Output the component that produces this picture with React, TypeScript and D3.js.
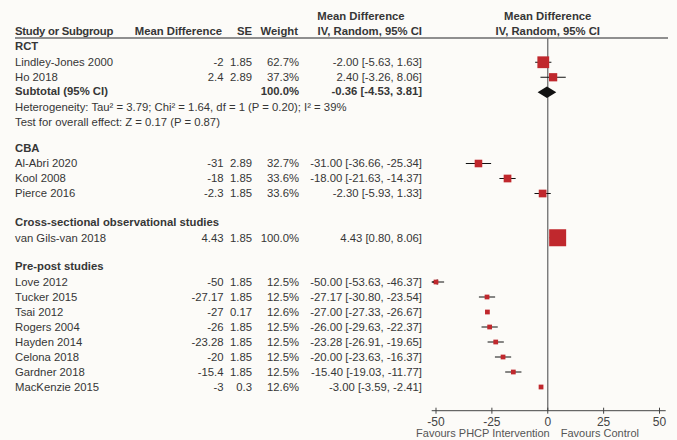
import React from "react";
import * as d3 from "d3";

// chart values
const studies = [
  "Lindley-Jones 2000", "Ho 2018",
  "Al-Abri 2020", "Kool 2008", "Pierce 2016",
  "van Gils-van 2018",
  "Love 2012", "Tucker 2015", "Tsai 2012", "Rogers 2004", "Hayden 2014", "Celona 2018", "Gardner 2018", "MacKenzie 2015",
];
const groupOf = [0, 0, 1, 1, 1, 2, 3, 3, 3, 3, 3, 3, 3, 3];
const groups = ["RCT", "CBA", "Cross-sectional observational studies", "Pre-post studies"];
const meanDiff = ["-2", "2.4", "-31", "-18", "-2.3", "4.43", "-50", "-27.17", "-27", "-26", "-23.28", "-20", "-15.4", "-3"];
const seVals = ["1.85", "2.89", "2.89", "1.85", "1.85", "1.85", "1.85", "1.85", "0.17", "1.85", "1.85", "1.85", "1.85", "0.3"];
const weights = [62.7, 37.3, 32.7, 33.6, 33.6, 100.0, 12.5, 12.5, 12.6, 12.5, 12.5, 12.5, 12.5, 12.6];
const lower = [-5.63, -3.26, -36.66, -21.63, -5.93, 0.8, -53.63, -30.8, -27.33, -29.63, -26.91, -23.63, -19.03, -3.59];
const upper = [1.63, 8.06, -25.34, -14.37, 1.33, 8.06, -46.37, -23.54, -26.67, -22.37, -19.65, -16.37, -11.77, -2.41];

const subtotal = { group: 0, est: -0.36, lo: -4.53, hi: 3.81, weight: "100.0%" };
const rctNotes = [
  "Heterogeneity: Tau² = 3.79; Chi² = 1.64, df = 1 (P = 0.20); I² = 39%",
  "Test for overall effect: Z = 0.17 (P = 0.87)",
];
const axisTicks = [-50, -25, 0, 25, 50];

const W = 677, H = 440;
const FONT = "'Liberation Sans', Arial, sans-serif";
const FS = 11.3;
const TXT = "#363636";
const RED = "#c0282d";

type Row = { kind: string; i?: number; label?: string; pos: number };

function buildRows(): Row[] {
  const rows: Row[] = [];
  let pos = 0;
  let prev = "";
  const push = (r: { kind: string; i?: number; label?: string }) => {
    if (rows.length) {
      if (r.kind === "group") pos += prev === "note" ? 1.7 : 1.9;
      else if (prev === "group") pos += 1.05;
      else pos += 1;
    }
    rows.push({ ...r, pos });
    prev = r.kind;
  };
  groups.forEach((g, gi) => {
    push({ kind: "group", label: g });
    studies.forEach((s, i) => { if (groupOf[i] === gi) push({ kind: "study", i }); });
    if (subtotal.group === gi) {
      push({ kind: "subtotal" });
      rctNotes.forEach((n) => push({ kind: "note", label: n }));
    }
  });
  return rows;
}

// plain hyphen for negatives, like the original table
const f2 = (v: number) => d3.format(".2f")(v).replace("\u2212", "-");
const ci = (e: number, a: number, b: number) => `${f2(e)} [${f2(a)}, ${f2(b)}]`;

export default function App() {
  const rows = buildRows();
  const y = d3.scaleLinear().domain([0, 1]).range([46.5, 61.5]);
  const x = d3.scaleLinear().domain([-50, 50]).range([436, 659.5]);
  const clipLo = x.invert(431.7), clipHi = x.invert(665.7);
  const box = d3.scaleLinear().domain([0, 100]).range([3, 17]);

  const colX = { study: 15, md: 223.5, se: 252, wt: 299, ci: 422 };
  const axisY = 410.7;
  const headTop = 16, headBot = 31, ruleY = 38;

  const txt = (props: any, s: string) => (
    <text fontFamily={FONT} fontSize={FS} fill={TXT} dy="0.35em" {...props}>{s}</text>
  );

  return (
    <svg width={W} height={H} style={{ position: "absolute", left: 0, top: 0, background: "#fcfbf8" }}>
      {/* headers */}
      <g>
        {txt({ x: colX.study, y: headBot, fontWeight: "bold", letterSpacing: -0.25 }, "Study or Subgroup")}
        {txt({ x: 222, y: headBot, textAnchor: "end", fontWeight: "bold" }, "Mean Difference")}
        {txt({ x: colX.se, y: headBot, textAnchor: "end", fontWeight: "bold" }, "SE")}
        {txt({ x: 298, y: headBot, textAnchor: "end", fontWeight: "bold" }, "Weight")}
        {txt({ x: 361, y: headTop, textAnchor: "middle", fontWeight: "bold" }, "Mean Difference")}
        {txt({ x: colX.ci, y: headBot, textAnchor: "end", fontWeight: "bold" }, "IV, Random, 95% CI")}
        {txt({ x: x(0), y: headTop, textAnchor: "middle", fontWeight: "bold" }, "Mean Difference")}
        {txt({ x: x(0), y: headBot, textAnchor: "middle", fontWeight: "bold" }, "IV, Random, 95% CI")}
      </g>
      <line x1={15} x2={668} y1={ruleY} y2={ruleY} stroke="#8f8f8f" strokeWidth={2} />

      {/* zero line */}
      <line x1={x(0)} x2={x(0)} y1={ruleY} y2={axisY} stroke="#6e6e6e" strokeWidth={1.3} />

      {rows.map((r, k) => {
        const cy = y(r.pos);
        if (r.kind === "group")
          return <g key={k}>{txt({ x: colX.study, y: cy, fontWeight: "bold" }, r.label!)}</g>;
        if (r.kind === "note")
          return <g key={k}>{txt({ x: colX.study, y: cy }, r.label!)}</g>;
        if (r.kind === "subtotal") {
          const hh = 5.8;
          const pts = [
            [x(subtotal.lo), cy], [x(subtotal.est), cy - hh], [x(subtotal.hi), cy], [x(subtotal.est), cy + hh],
          ].map((p) => p.join(",")).join(" ");
          return (
            <g key={k}>
              {txt({ x: colX.study, y: cy - 1, fontWeight: "bold" }, "Subtotal (95% CI)")}
              {txt({ x: colX.wt, y: cy - 1, textAnchor: "end", fontWeight: "bold" }, subtotal.weight)}
              {txt({ x: colX.ci, y: cy - 1, textAnchor: "end", fontWeight: "bold" }, ci(subtotal.est, subtotal.lo, subtotal.hi))}
              <polygon points={pts} fill="#111" />
            </g>
          );
        }
        const i = r.i!;
        const est = +meanDiff[i];
        const s = box(weights[i]);
        const lo = Math.max(lower[i], clipLo), hi = Math.min(upper[i], clipHi);
        return (
          <g key={k}>
            {txt({ x: colX.study, y: cy }, studies[i])}
            {txt({ x: colX.md, y: cy, textAnchor: "end" }, meanDiff[i])}
            {txt({ x: colX.se, y: cy, textAnchor: "end" }, seVals[i])}
            {txt({ x: colX.wt, y: cy, textAnchor: "end" }, d3.format(".1f")(weights[i]) + "%")}
            {txt({ x: colX.ci, y: cy, textAnchor: "end" }, ci(est, lower[i], upper[i]))}
            <line x1={x(lo)} x2={x(hi)} y1={cy} y2={cy} stroke="#111" strokeWidth={1} />
            {lower[i] < clipLo && (
              <polygon points={`${x(clipLo)},${cy} ${x(clipLo) + 6},${cy - 2.8} ${x(clipLo) + 6},${cy + 2.8}`} fill="#111" />
            )}
            <rect x={x(est) - s / 2} y={cy - s / 2} width={s} height={s} fill={RED} />
          </g>
        );
      })}

      {/* axis */}
      <line x1={x(clipLo)} x2={x(clipHi)} y1={axisY} y2={axisY} stroke="#444" strokeWidth={1} />
      {axisTicks.map((t) => (
        <g key={t}>
          <line x1={x(t)} x2={x(t)} y1={axisY - 3} y2={axisY + 3} stroke="#444" strokeWidth={1} />
          {txt({ x: x(t), y: 421.7, textAnchor: "middle", fill: "#444", fontSize: 12 }, String(t))}
        </g>
      ))}
      {txt({ x: x(0) + 2, y: 433.5, textAnchor: "end", fill: "#555", fontSize: 11 }, "Favours PHCP Intervention")}
      {txt({ x: x(0) + 13, y: 433.5, fill: "#555", fontSize: 11 }, "Favours Control")}
    </svg>
  );
}
